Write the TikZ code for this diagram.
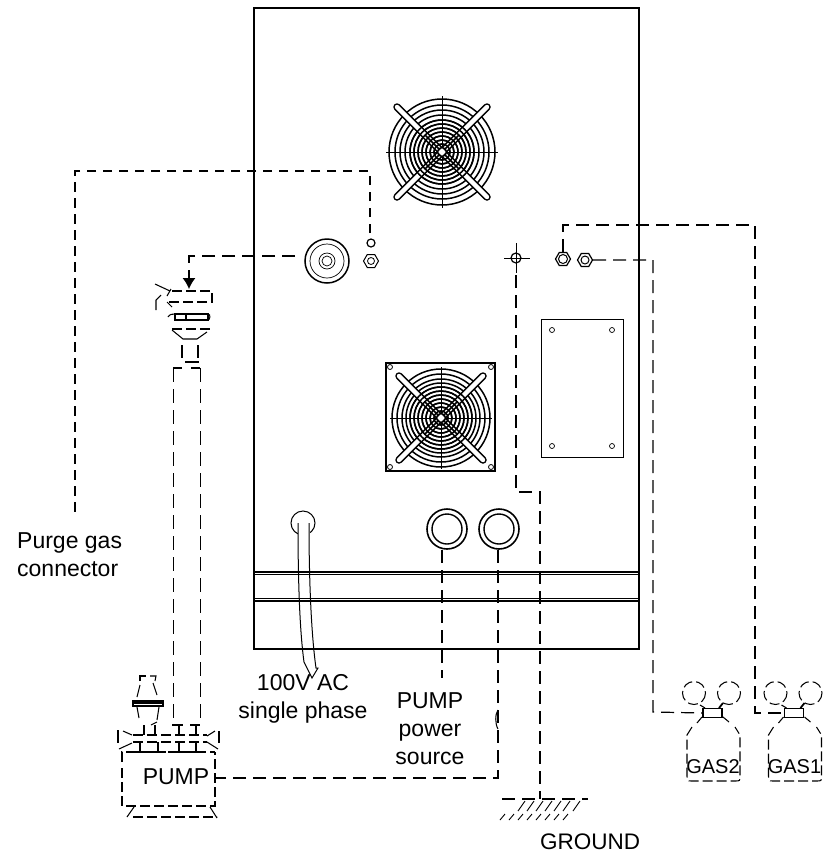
\documentclass[tikz,border=0pt]{standalone}
\usepackage{fontspec}
\setmainfont{Liberation Sans}
\usetikzlibrary{shapes.geometric,arrows.meta}
\tikzset{
    pipe/.style={line width=1.2pt, dash pattern=on 13pt off 7pt},
    hose/.style={line width=1pt, dash pattern=on 14pt off 7pt},
    purge/.style={line width=1.6pt, dash pattern=on 9.5pt off 6.5pt},
    part/.style={line width=1.05pt, dash pattern=on 10pt off 4pt},
    solid part/.style={line width=1.05pt},
    plain/.style={line width=1.2pt},
    panel/.style={line width=1.8pt},
    hole/.style={circle, draw, line width=0.9pt, inner sep=0pt},
    nut/.style={regular polygon, regular polygon sides=6, draw, line width=1pt, inner sep=0pt, minimum size=15pt},
    armline/.style={line width=7.5pt, line cap=round},
    armgap/.style={white, line width=4.4pt, line cap=round},
    label/.style={font=\fontsize{23}{28}\selectfont, align=center, inner sep=0pt},
    gaslabel/.style={font=\fontsize{20}{24}\selectfont, inner sep=0pt}
}
\begin{document}
\begin{tikzpicture}[x=1pt, y=-1pt]
    \useasboundingbox (0,0) rectangle (828,855);

    % cabinet
    \draw[panel] (254,8) rectangle (639,649);
    \draw[plain] (254,572) -- (639,572);
    \draw[plain] (254,574.5) -- (639,574.5);
    \draw[plain] (254,598.5) -- (639,598.5);
    \draw[plain] (254,601) -- (639,601);

    % upper fan
    \foreach \r in {53,47,42,37,32,28,24,20,16,12,8,4.5}
        \draw[line width=1.5pt] (442,152) circle (\r);
    \draw[line width=0.4pt] (386,152) -- (498,152);
    \draw[line width=0.4pt] (442,96) -- (442,208);
    \draw[armline] (397,107) -- (487,197);
    \draw[armline] (487,107) -- (397,197);
    \draw[armgap] (397,107) -- (487,197);
    \draw[armgap] (487,107) -- (397,197);
    \foreach \r in {32,28,24,20,16,12,8,4.5}
        \draw[line width=1.5pt] (442,152) circle (\r);
    \draw[line width=1.6pt] (425,135) -- (459,169);
    \draw[line width=1.6pt] (459,135) -- (425,169);
    \fill[white] (442,152) circle (3);

    % lower fan
    \draw[line width=1.2pt] (386,363) rectangle (495,471);
    \foreach \hx/\hy in {390/367,491/367,390/467,491/467}
        \draw[line width=0.8pt] (\hx,\hy) circle (2.5);
    \foreach \r in {49,44,39,35,31,27,23,19,15,11,7,4.5}
        \draw[line width=1.5pt] (441,418) circle (\r);
    \draw[line width=0.4pt] (390,418) -- (492,418);
    \draw[line width=0.4pt] (441,367) -- (441,469);
    \draw[armline] (399,376) -- (483,460);
    \draw[armline] (483,376) -- (399,460);
    \draw[armgap] (399,376) -- (483,460);
    \draw[armgap] (483,376) -- (399,460);
    \foreach \r in {31,27,23,19,15,11,7,4.5}
        \draw[line width=1.5pt] (441,418) circle (\r);
    \draw[line width=1.6pt] (425,402) -- (457,434);
    \draw[line width=1.6pt] (457,402) -- (425,434);
    \fill[white] (441,418) circle (3);

    % side plate
    \draw[line width=0.9pt] (541,319) rectangle (623,457);
    \foreach \hx/\hy in {552/330,612/330,552/446,612/446}
        \draw[line width=0.7pt] (\hx,\hy) circle (2.5);

    % gland and nuts
    \node[hole, line width=1.5pt, minimum size=44pt] (gland) at (327,261) {};
    \draw[line width=0.7pt] (327,261) circle (17);
    \draw[line width=0.7pt] (327,261) circle (8);
    \draw[line width=0.7pt] (327,261) circle (5);
    \node[hole, line width=1.2pt, minimum size=8pt] (purgeport) at (371,243) {};
    \node[nut] (purgenut) at (371,261) {};
    \draw[line width=0.8pt] (371,261) circle (3.5);
    \node[hole, line width=1.2pt, minimum size=10pt] (earth) at (516,258) {};
    \draw[line width=1pt] (504,258) -- (530,258);
    \draw[line width=1pt] (516,243) -- (516,273);
    \node[nut, line width=1.2pt] (gastwonut) at (563,259) {};
    \draw[line width=1pt] (563,259) circle (4.5);
    \node[nut, line width=1.2pt] (gasonenut) at (585,260) {};
    \draw[line width=1pt] (585,260) circle (4);

    % mains cable
    \node[hole, line width=1pt, minimum size=24pt] (cableport) at (303,523) {};
    \draw[white, fill=white] (298,523) rectangle (309,540);
    \draw[line width=1pt] (298,523) .. controls (298,600) and (301,640) .. (304,662) -- (312,678)
        -- (318,668) -- (316,668) .. controls (312,640) and (309,590) .. (309,523);

    % grommets
    \node[hole, line width=1.6pt, minimum size=40pt] (pumpsocket) at (447,529) {};
    \draw[line width=1.4pt] (447,529) circle (15);
    \node[hole, line width=1.6pt, minimum size=40pt] (powersocket) at (499,529) {};
    \draw[line width=1.4pt] (499,529) circle (15);

    % labels
    \node[label, align=left, anchor=west] (purgelabel) at (17,554.5) {Purge gas\\connector};
    \node[label] (mainslabel) at (303,699) {100V AC\\single phase};
    \node[label] (powerlabel) at (430,729) {PUMP\\power\\source};
    \node[label] (pumplabel) at (176,777) {PUMP};
    \node[label, font=\fontsize{22.5}{28}\selectfont] (groundlabel) at (590,842) {GROUND};

    % pump
    \coordinate (pumpport) at (216,778);
    \draw[part] (122,762) -- (122,752) -- (215,752);
    \draw[part] (122,768) -- (122,806) -- (215,806) -- (215,752);
    \draw[part] (133,817) -- (217,817);
    \draw[solid part] (134,807) -- (127,817);
    \draw[solid part] (210,807) -- (217,818);
    \draw[solid part] (118,730) -- (118,743);
    \draw[solid part] (219,731) -- (219,743);
    \draw[solid part] (123,731) -- (132,735);
    \draw[solid part] (119,749) -- (132,743);
    \draw[solid part] (215,731) -- (207,736);
    \draw[solid part] (207,742) -- (218,749);
    \draw[part] (133,735) -- (207,735);
    \draw[part] (133,742) -- (207,742);
    \foreach \tx in {140,158,179,196}
        \draw[solid part] (\tx,742) -- (\tx,751);
    \foreach \tx in {136,158,179,196}
        \draw[solid part] (\tx-8,752) -- (\tx+8,752);
    \foreach \tx in {144,155,179,196}
        \draw[solid part] (\tx,725) -- (\tx,735);
    \draw[solid part] (172,725) -- (183,725);
    \draw[solid part] (190,725) -- (200,725);
    \draw[solid part] (151,725) -- (157,722);

    % valve on pump
    \draw[solid part] (140,681) -- (140,676) -- (146,676);
    \draw[solid part] (150,676) -- (156,676) -- (155,681);
    \draw[solid part] (140,685) -- (137,697);
    \draw[solid part] (153,683) -- (157,695);
    \draw[line width=2pt] (133,703) -- (163,703);
    \draw[solid part] (133,701) rectangle (163,706);
    \draw[solid part] (137,707) -- (139,718);
    \draw[solid part] (159,707) -- (157,720);

    % hose
    \coordinate (hosetop) at (173,368);
    \draw[hose] (173,368) -- (173,725);
    \draw[hose] (200,368) -- (200,725);
    \draw[solid part] (173,368) -- (182,368);
    \draw[solid part] (191,368) -- (200,368);

    % hose connector
    \coordinate (hoseinlet) at (189,289);
    \draw[part] (172,291) -- (212,291) -- (212,302) -- (167,302);
    \draw[solid part] (155,284) -- (170,291);
    \draw[solid part] (171,289) -- (167,296);
    \draw[solid part] (161,295) -- (156,300) -- (156,310);
    \draw[solid part] (167,302) -- (172,307);
    \draw[solid part] (175,314) rectangle (208,320);
    \draw[solid part] (168,317) .. controls (170,314) and (172,314) .. (175,314);
    \draw[solid part] (208,314) .. controls (211,314) and (210,320) .. (208,320);
    \draw[solid part] (186,314) -- (186,320);
    \draw[part] (172,329) -- (210,329);
    \draw[solid part] (172,330) -- (183,339) -- (197,339) -- (207,332);
    \draw[solid part] (182,345) -- (182,358);
    \draw[solid part] (198,345) -- (198,358);
    \draw[solid part] (185,362) -- (199,362);

    % gas bottles
    \foreach \gx/\gname in {0/GAS2,81.5/GAS1} {
        \begin{scope}[xshift=\gx pt]
            \draw[part] (694,693) circle (11.5);
            \draw[part] (729,693) circle (11.5);
            \node[draw, line width=1.2pt, minimum width=19pt, minimum height=9pt, inner sep=0pt] (neck\gname) at (712.5,713) {};
            \draw[solid part] (700,705) -- (705,708);
            \draw[line width=1.8pt] (719,708) -- (723,703);
            \draw[solid part] (702,717) -- (697,723);
            \draw[solid part] (723,717) -- (729,722);
            \draw[part] (692,727) -- (687,735) -- (687,776) .. controls (687,781) .. (692,781) -- (735,781)
                .. controls (740,781) .. (740,776) -- (740,735) -- (735,727);
            \node[gaslabel] (label\gname) at (713,767) {\gname};
        \end{scope}
    }

    % ground
    \coordinate (groundtop) at (540,799);
    \draw[pipe] (502,799) -- (588,799);
    \foreach \tx in {525,534,543,552,561,570,580}
        \draw[line width=0.9pt] (\tx,801) -- (\tx-7,811);
    \foreach \tx in {505,514,523,532,541,550,559,568}
        \draw[line width=0.9pt] (\tx,814) -- (\tx-5,820);

    % connections
    \coordinate (purgeend) at (75,515);
    \coordinate (purgetop) at (370,233);
    \draw[purge] (purgetop) -- (370,171) -| (purgeend);
    \coordinate (glandend) at (295,256);
    \draw[pipe] (glandend) -| (189,272);
    \draw[-{Latex[length=11pt,width=13pt]}, line width=1.2pt] (189,272) -- (hoseinlet);
    \draw[pipe] (516,275) |- (540,492) -- (groundtop);
    \draw[pipe] (gastwonut.north) |- (755,225) |- (neckGAS1.west);
    \draw[pipe] (gasonenut.east) -| (653,712) -- (neckGAS2.west);
    \draw[pipe] (442,550) -- (442,678);
    \draw[pipe] (498,550) |- (pumpport);
    \draw[solid part] (498,710) .. controls (495,714) and (495,724) .. (498,729);
\end{tikzpicture}
\end{document}
